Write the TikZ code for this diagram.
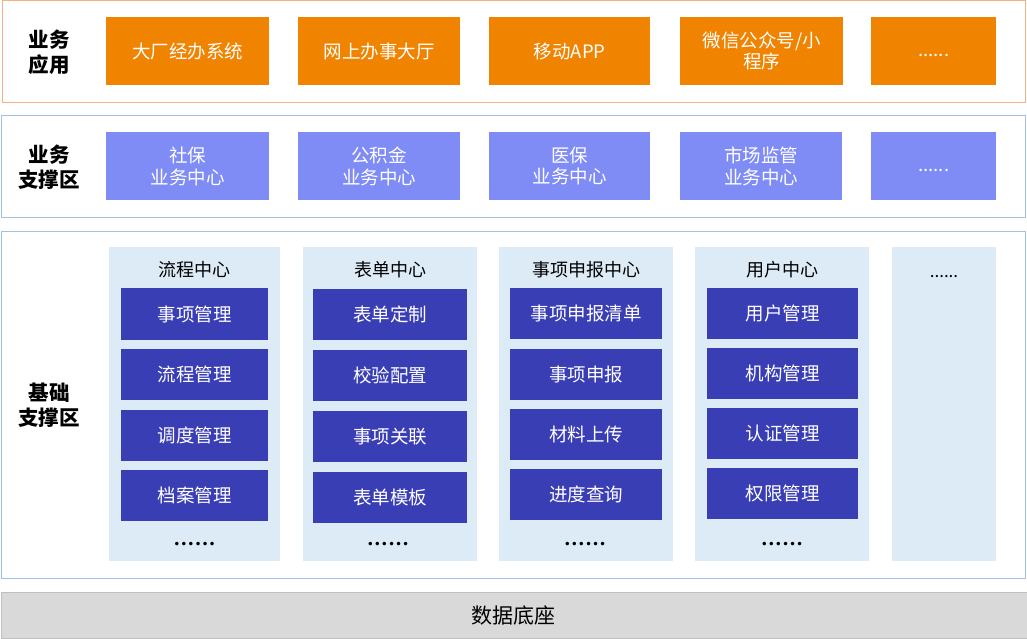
\documentclass[tikz,border=0pt]{standalone}
\usepackage{fontspec}
\setmainfont{Noto Sans CJK SC}
\newfontfamily\dotfont{DejaVu Sans}
\definecolor{obox}{HTML}{F08300}
\definecolor{oline}{HTML}{F4B183}
\definecolor{bline}{HTML}{9DC3E6}
\definecolor{pbox}{HTML}{7F8CF5}
\definecolor{dbox}{HTML}{3A3EB5}
\definecolor{lcol}{HTML}{DDEBF7}
\definecolor{gbar}{HTML}{D9D9D9}
\definecolor{gline}{HTML}{BFBFBF}
\tikzset{
  layer/.style={draw=#1, line width=1pt, inner sep=0pt, anchor=north west},
  appbox/.style={fill=obox, text=white, inner sep=0pt, anchor=north west, align=center, font=\fontsize{18.5}{21}\selectfont},
  supbox/.style={fill=pbox, text=white, inner sep=0pt, anchor=north west, align=center, font=\fontsize{18.5}{21.5}\selectfont},
  colbox/.style={fill=lcol, inner sep=0pt, anchor=north west},
  fnbox/.style={fill=dbox, text=white, inner sep=0pt, anchor=north west, align=center, font=\fontsize{18.5}{21}\selectfont},
  lbl/.style={align=center, font=\fontsize{20.5}{25}\selectfont\bfseries},
  hdr/.style={font=\fontsize{18}{21}\selectfont},
  dots/.style={font=\dotfont\fontsize{12}{14}\selectfont},
}
\begin{document}
\begin{tikzpicture}[x=1pt,y=-1pt]
\useasboundingbox (0,0) rectangle (1027,639);
% layers
\node[layer=oline, minimum width=1023pt, minimum height=102pt] (L1) at (2,0.5) {};
\node[layer=bline, minimum width=1024pt, minimum height=102pt] (L2) at (1,115) {};
\node[layer=bline, minimum width=1024pt, minimum height=347pt] (L3) at (1,231) {};
\node[fill=gbar, draw=gline, line width=1pt, inner sep=0pt, anchor=north west, minimum width=1026pt, minimum height=46pt] (L4) at (0.5,592) {};
\node[font=\fontsize{21}{24}\selectfont] (db) at (513,615) {数据底座};
% labels
\node[lbl] (t1) at (49,52) {业务\\应用};
\node[lbl] (t2) at (49,167) {业务\\支撑区};
\node[lbl] (t3) at (49,405) {基础\\支撑区};
% application row
\node[appbox, minimum width=163pt, minimum height=68pt] (a1) at (106,17) {大厂经办系统};
\node[appbox, minimum width=162pt, minimum height=68pt] (a2) at (298,17) {网上办事大厅};
\node[appbox, minimum width=161pt, minimum height=68pt] (a3) at (489,17) {移动APP};
\node[appbox, minimum width=163pt, minimum height=68pt] (a4) at (680,17) {微信公众号/小\\程序};
\node[appbox, minimum width=125pt, minimum height=68pt] (a5) at (871,17) {\smash{\raisebox{-5pt}{......}}};
% support row
\node[supbox, minimum width=163pt, minimum height=68pt] (s1) at (106,132) {社保\\业务中心};
\node[supbox, minimum width=162pt, minimum height=68pt] (s2) at (298,132) {公积金\\业务中心};
\node[supbox, minimum width=161pt, minimum height=68pt] (s3) at (489,132) {医保\\业务中心};
\node[supbox, minimum width=162pt, minimum height=68pt] (s4) at (680,132) {市场监管\\业务中心};
\node[supbox, minimum width=125pt, minimum height=68pt] (s5) at (871,132) {\smash{\raisebox{-5pt}{......}}};
% columns
\node[colbox, minimum width=171pt, minimum height=314pt] (c1) at (109,247) {};
\node[colbox, minimum width=174pt, minimum height=314pt] (c2) at (303,247) {};
\node[colbox, minimum width=174pt, minimum height=314pt] (c3) at (499,247) {};
\node[colbox, minimum width=174pt, minimum height=314pt] (c4) at (695,247) {};
\node[colbox, minimum width=104pt, minimum height=314pt] (c5) at (892,247) {};
\node[hdr] (h1) at (194.5,270) {流程中心};
\node[hdr] (h2) at (390,270) {表单中心};
\node[hdr] (h3) at (586,270) {事项申报中心};
\node[hdr] (h4) at (782,270) {用户中心};
\node[font=\fontsize{17}{20}\selectfont] (h5) at (944,277) {......};
% column 1
\node[fnbox, minimum width=147pt, minimum height=52pt] (f11) at (121,288) {事项管理};
\node[fnbox, minimum width=147pt, minimum height=51pt] (f12) at (121,349) {流程管理};
\node[fnbox, minimum width=147pt, minimum height=51pt] (f13) at (121,410) {调度管理};
\node[fnbox, minimum width=147pt, minimum height=51pt] (f14) at (121,470) {档案管理};
% column 2
\node[fnbox, minimum width=154pt, minimum height=51pt] (f21) at (313,289) {表单定制};
\node[fnbox, minimum width=154pt, minimum height=51pt] (f22) at (313,350) {校验配置};
\node[fnbox, minimum width=154pt, minimum height=51pt] (f23) at (313,411) {事项关联};
\node[fnbox, minimum width=154pt, minimum height=51pt] (f24) at (313,472) {表单模板};
% column 3
\node[fnbox, minimum width=152pt, minimum height=51pt] (f31) at (510,288) {事项申报清单};
\node[fnbox, minimum width=152pt, minimum height=51pt] (f32) at (510,349) {事项申报};
\node[fnbox, minimum width=152pt, minimum height=51pt] (f33) at (510,409) {材料上传};
\node[fnbox, minimum width=152pt, minimum height=51pt] (f34) at (510,469) {进度查询};
% column 4
\node[fnbox, minimum width=151pt, minimum height=51pt] (f41) at (707,288) {用户管理};
\node[fnbox, minimum width=151pt, minimum height=51pt] (f42) at (707,348) {机构管理};
\node[fnbox, minimum width=151pt, minimum height=51pt] (f43) at (707,408) {认证管理};
\node[fnbox, minimum width=151pt, minimum height=51pt] (f44) at (707,468) {权限管理};
% dots
\node[dots] (d1) at (194.5,545) {••••••};
\node[dots] (d2) at (388,545) {••••••};
\node[dots] (d3) at (585,545) {••••••};
\node[dots] (d4) at (782,545) {••••••};
\end{tikzpicture}
\end{document}
